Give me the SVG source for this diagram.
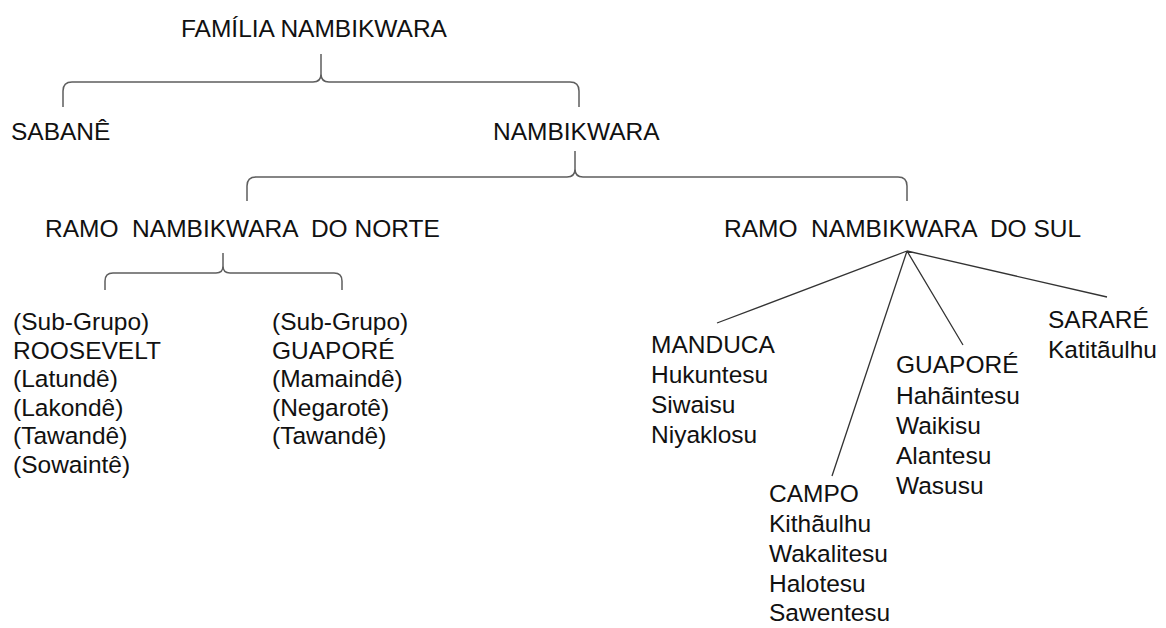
<svg xmlns="http://www.w3.org/2000/svg" width="1166" height="628" viewBox="0 0 1166 628">
<style>
text{font-family:"Liberation Sans",Arial,sans-serif;font-size:24.5px;fill:#111;}
.br{fill:none;stroke:#5e5e5e;stroke-width:1.5;}
.fan{fill:none;stroke:#333;stroke-width:1.3;}
</style>
<rect width="1166" height="628" fill="#fff"/>
<g id="connectors">
<path class="br" d="M63,107 V91 Q63,82 72,82 H313 Q321,82 321,74 Q321,82 329,82 H570 Q579,82 579,91 V107 M321,74 V54"/>
<path class="br" d="M247,201 V186 Q247,177 256,177 H567 Q575,177 575,169 Q575,177 583,177 H898 Q907,177 907,186 V201 M575,169 V151"/>
<path class="br" d="M105,290 V281 Q105,273 113,273 H216 Q223,273 223,266 Q223,273 230,273 H334 Q342,273 342,281 V290 M223,266 V253"/>
<path class="fan" d="M907,251 L717,323 M907,251 L832,476 M907,251 L963,345 M907,251 L1107,297"/>
</g>
<g id="familia"><text x="181" y="37">FAMÍLIA NAMBIKWARA</text></g>
<g id="sabane"><text x="11" y="140">SABANÊ</text></g>
<g id="nambikwara"><text x="493" y="140">NAMBIKWARA</text></g>
<g id="ramo-norte"><text x="45" y="237" xml:space="preserve">RAMO  NAMBIKWARA  DO NORTE</text></g>
<g id="ramo-sul"><text x="724" y="237" xml:space="preserve">RAMO  NAMBIKWARA  DO SUL</text></g>
<g id="roosevelt">
<text x="13" y="330">(Sub-Grupo)</text>
<text x="13" y="358.6">ROOSEVELT</text>
<text x="13" y="387.2">(Latundê)</text>
<text x="13" y="415.8">(Lakondê)</text>
<text x="13" y="444.4">(Tawandê)</text>
<text x="13" y="473">(Sowaintê)</text>
</g>
<g id="guapore-norte">
<text x="272" y="330">(Sub-Grupo)</text>
<text x="272" y="358.6">GUAPORÉ</text>
<text x="272" y="387.2">(Mamaindê)</text>
<text x="272" y="415.8">(Negarotê)</text>
<text x="272" y="444.4">(Tawandê)</text>
</g>
<g id="manduca">
<text x="651" y="353">MANDUCA</text>
<text x="651" y="383">Hukuntesu</text>
<text x="651" y="413">Siwaisu</text>
<text x="651" y="443">Niyaklosu</text>
</g>
<g id="campo">
<text x="769" y="502">CAMPO</text>
<text x="769" y="532">Kithãulhu</text>
<text x="769" y="562">Wakalitesu</text>
<text x="769" y="592">Halotesu</text>
<text x="769" y="621">Sawentesu</text>
</g>
<g id="guapore-sul">
<text x="896" y="373">GUAPORÉ</text>
<text x="896" y="404">Hahãintesu</text>
<text x="896" y="434">Waikisu</text>
<text x="896" y="464">Alantesu</text>
<text x="896" y="494">Wasusu</text>
</g>
<g id="sarare">
<text x="1048" y="328">SARARÉ</text>
<text x="1048" y="358">Katitãulhu</text>
</g>
</svg>
